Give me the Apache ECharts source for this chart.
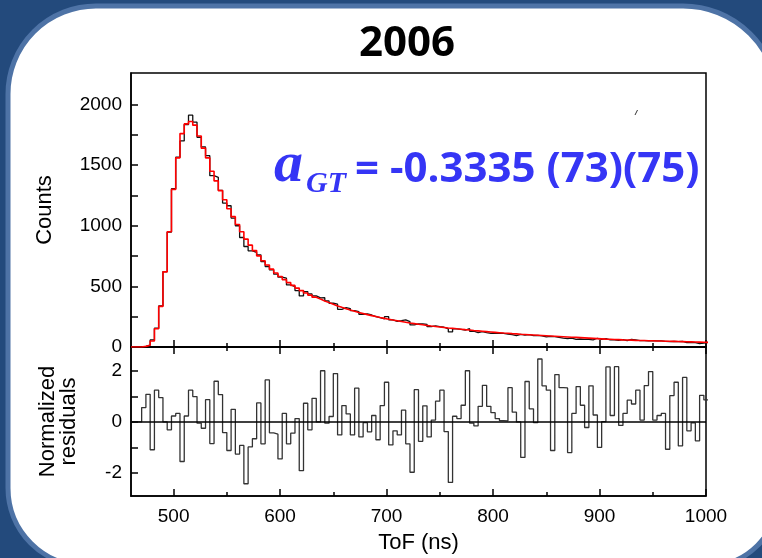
<!DOCTYPE html>
<html><head><meta charset="utf-8">
<script src="https://cdn.jsdelivr.net/npm/echarts@6/dist/echarts.min.js"></script>
<style>html,body{margin:0;padding:0;background:#234a7c}#c{width:762px;height:558px}</style>
</head><body><div id="c"></div><script>
// ---- data ----
const binStart = 470;   // ns, first bin edge
const binWidth = 4;     // ns
const counts = [5,16,58,155,339,622,948,1306,1565,1700,1835,1912,1854,1730,1650,1578,1413,1400,1292,1187,1165,1063,1000,903,829,793,780,
 760,705,664,636,601,576,568,512,498,465,421,457,438,421,405,407,380,361,353,311,325,317,300,292,270,273,264,250,242,231,250,223,212,217,223,209,182,190,190,187,168,174,168,163,149,124,149,146,140,151,130,118,
 127,118,113,113,113,113,107,102,94,104,99,102,94,96,91,83,88,86,80,74,69,74,63,66,63,63,58,72,63,69,58,58,55,61,52,63,58,52,52,50,52,50,50,47,44,47,44,47,36,39,36,28,33,39];
const fit = [5,14,50,150,335,620,950,1300,1560,1760,1840,1860,1830,1740,1640,1560,1450,1370,1290,1215,1140,1075,1010,950,890,840,795,752,712,676,
 642,610,582,556,531,508,486,465,446,428,411,395,380,366,352,339,327,316,305,295,285,276,267,259,251,243,236,229,222,216,210,204,198,193,188,183,178,173,169,165,161,
 157,154,150,147,143,140,136,133,130,127,124,121,118,115,113,110,108,105,103,101,99,97,95,93,91,89,87,85,83,81,79,77,75,73,71,69,67,65,64,62,61,59,58,57,55,54,53,52,51,50,49,48,47,46,45,44,43,42,41,40,39,38];
const residuals = [0.56,1.08,-1.09,1.24,0.95,0,-0.31,0.23,0.33,-1.55,0.23,1.24,0.99,-0.05,-0.25,0.87,-0.85,1.59,1.07,-0.42,-1.12,0.49,-1.26,-0.92,-2.42,-0.98,-0.66,0.74,-0.86,1.64,-0.43,-0.48,-1.45,0.33,-0.86,-0.44,0.13,-1.91,0.73,-0.31,0.92,0,2.0,
 -0.05,0.21,1.89,-0.51,0.64,0.31,-0.51,1.32,-0.59,-0.03,-0.39,0.25,-0.7,0.64,1.55,-0.9,-0.35,-0.51,0.46,-0.86,-1.97,1.26,-0.76,0.63,-0.59,0.07,0.81,1.24,-0.38,-2.37,0.22,0.13,0.65,2.0,-0.05,-0.16,0.61,1.43,0.61,0.36,0.13,0.05,0.04,1.34,0.38,0,-1.39,
 1.58,0.51,-0.03,2.46,1.41,1.24,-1.12,1.85,1.34,1.33,-1.2,0.33,1.38,0.65,-0.22,1.41,0.27,-1.0,0.01,2.15,0.25,2.16,-0.14,0.33,0.85,0.7,1.24,0.07,1.42,1.97,0.07,0.25,0.33,-1.07,1.03,1.55,-0.94,1.74,-0.35,-0.04,-0.74,1.04,0.86];
const xMajorTicks = [500,600,700,800,900,1000];
const xMinorTicks = [550,650,750,850,950];
const yCountTicks = [0,250,500,750,1000,1250,1500,1750,2000];
const yCountLabels = [0,500,1000,1500,2000];
const yResTicks = [-2,-1,0,1,2];
const yResLabels = [-2,0,2];

// ---- build step data ----
function stepData(vals){
  const d=[[460,0]];
  vals.forEach((v,i)=>d.push([binStart+i*binWidth, v]));
  d.push([binStart+vals.length*binWidth, vals[vals.length-1]]);
  return d;
}
const FONT = '"Liberation Sans", Arial, sans-serif';
const axisCol = '#000';
const plain = v => String(v);
function xAx(grid, pos, major, opts){
  return Object.assign({
    type:'value', gridIndex:grid, position:pos, min:460, max:1000,
    axisLine:{show:major, onZero:false, lineStyle:{color:axisCol,width:1.5}},
    axisTick:{show:true, inside:true, length: major?7:4, customValues: major?xMajorTicks:xMinorTicks, lineStyle:{color:axisCol,width:1.5}},
    axisLabel:{show:false}, splitLine:{show:false}
  }, opts||{});
}
const chart = echarts.init(document.getElementById('c'), null, {renderer:'canvas'});
chart.setOption({
  animation:false,
  backgroundColor:'#234a7c',
  grid:[
    {left:131, top:73, width:575, height:274, show:true, borderColor:'#000', borderWidth:1.5},
    {left:131, top:347, width:575, height:149, show:true, borderColor:'#000', borderWidth:1.5}
  ],
  xAxis:[
    xAx(0,'bottom',true),
    xAx(0,'bottom',false),
    xAx(1,'top',true),
    xAx(1,'top',false),
    xAx(1,'bottom',true,{
      axisLabel:{show:true, customValues:xMajorTicks, formatter:plain, color:'#000', fontSize:19, fontFamily:FONT, margin:11},
      name:'ToF (ns)', nameLocation:'middle', nameGap:36,
      nameTextStyle:{color:'#000', fontSize:22, fontFamily:FONT}
    }),
    xAx(1,'bottom',false)
  ],
  yAxis:[
    {type:'value', gridIndex:0, min:0, max:2260, position:'left',
     axisLine:{show:true, lineStyle:{color:axisCol,width:1.5}},
     axisTick:{show:true, inside:true, length:7, customValues:yCountTicks, lineStyle:{color:axisCol,width:1.5}},
     axisLabel:{show:true, customValues:yCountLabels, formatter:plain, color:'#000', fontSize:19, fontFamily:FONT, margin:9},
     splitLine:{show:false},
     name:'Counts', nameLocation:'middle', nameGap:75,
     nameTextStyle:{color:'#000', fontSize:22, fontFamily:FONT}},
    {type:'value', gridIndex:1, min:-2.9, max:2.93, position:'left',
     axisLine:{show:true, onZero:false, lineStyle:{color:axisCol,width:1.5}},
     axisTick:{show:true, inside:true, length:7, customValues:yResTicks, lineStyle:{color:axisCol,width:1.5}},
     axisLabel:{show:true, customValues:yResLabels, formatter:plain, color:'#000', fontSize:19, fontFamily:FONT, margin:9},
     splitLine:{show:false},
     name:'Normalized\nresiduals', nameLocation:'middle', nameGap:52,
     nameTextStyle:{color:'#000', fontSize:22, lineHeight:21, fontFamily:FONT}}
  ],
  series:[
    {type:'line', xAxisIndex:0, yAxisIndex:0, step:'end', data:stepData(counts), symbol:'none',
     lineStyle:{color:'#111', width:1.3}, z:3},
    {type:'line', xAxisIndex:0, yAxisIndex:0, step:'end', data:stepData(fit), symbol:'none',
     lineStyle:{color:'#ff0000', width:1.6}, z:4},
    {type:'line', xAxisIndex:4, yAxisIndex:1, step:'end', data:stepData(residuals), symbol:'none',
     lineStyle:{color:'#333', width:1.3}, z:3,
     markLine:{silent:true, symbol:'none', label:{show:false}, lineStyle:{color:'#000', width:1.6, type:'solid'}, data:[{yAxis:0}]}}
  ],
  graphic:[
    {type:'rect', z:-10, shape:{x:8, y:6, width:770, height:560, r:[88,95,70,78]},
     style:{fill:'#ffffff', stroke:'#4e73a6', lineWidth:5}},
    {type:'text', z:50, style:{text:'2006', x:407, y:44, font:'bold 42px "Open Sans", sans-serif', fill:'#000',
      textAlign:'center', textVerticalAlign:'middle', align:'center', verticalAlign:'middle'}},
    {type:'text', z:50, style:{text:'a', x:274, y:166, font:'italic bold 58px "Liberation Serif", serif', fill:'#3535f5',
      textAlign:'left', textVerticalAlign:'middle', align:'left', verticalAlign:'middle'}},
    {type:'text', z:50, style:{text:'GT', x:306, y:184, font:'italic bold 30px "Liberation Serif", serif', fill:'#3535f5',
      textAlign:'left', textVerticalAlign:'middle', align:'left', verticalAlign:'middle'}},
    {type:'text', z:50, style:{text:'= -0.3335 (73)(75)', x:355, y:170, font:'bold 42px "Open Sans", sans-serif', fill:'#3535f5',
      textAlign:'left', textVerticalAlign:'middle', align:'left', verticalAlign:'middle'}},
    {type:'line', z:50, shape:{x1:635, y1:115, x2:637.5, y2:110}, style:{stroke:'#333', lineWidth:1}}
  ]
});
</script></body></html>
